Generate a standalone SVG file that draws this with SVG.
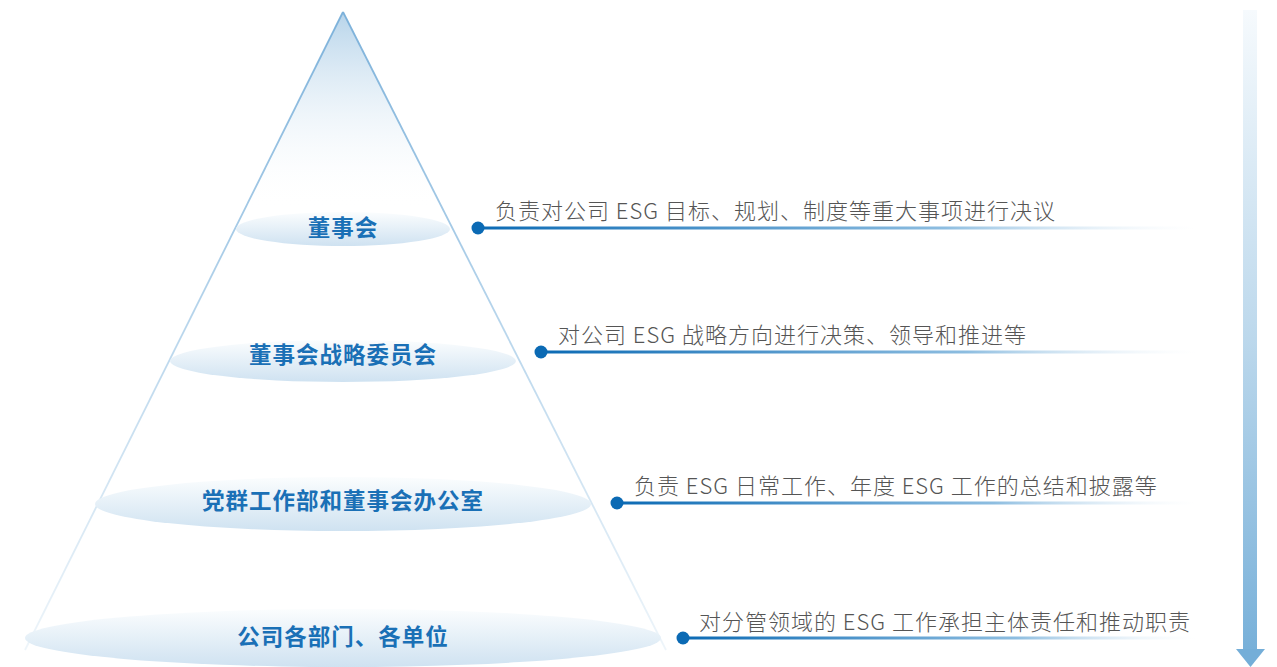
<svg xmlns="http://www.w3.org/2000/svg" width="1277" height="667" viewBox="0 0 1277 667">
<defs>
<linearGradient id="triFill" gradientUnits="userSpaceOnUse" x1="0" y1="12" x2="0" y2="210">
<stop offset="0" stop-color="#b7d4ea"/>
<stop offset="1" stop-color="#ffffff" stop-opacity="0"/>
</linearGradient>
<linearGradient id="edge" gradientUnits="userSpaceOnUse" x1="0" y1="12" x2="0" y2="650">
<stop offset="0" stop-color="#7cb1da"/>
<stop offset="0.5" stop-color="#b9d6ec"/>
<stop offset="1" stop-color="#eef5fa"/>
</linearGradient>
<linearGradient id="ell" x1="0" y1="0" x2="0" y2="1">
<stop offset="0" stop-color="#fbfdfe"/>
<stop offset="1" stop-color="#cfe2f1"/>
</linearGradient>
<linearGradient id="lineG" x1="0" y1="0" x2="1" y2="0">
<stop offset="0" stop-color="#0b6ab4"/>
<stop offset="0.65" stop-color="#8dbde0"/>
<stop offset="1" stop-color="#ffffff" stop-opacity="0.2"/>
</linearGradient>
<linearGradient id="arrowG" gradientUnits="userSpaceOnUse" x1="0" y1="10" x2="0" y2="667">
<stop offset="0" stop-color="#f6fafd"/>
<stop offset="0.5" stop-color="#bcd8ec"/>
<stop offset="1" stop-color="#74aed8"/>
</linearGradient>
</defs>
<style>
.lbl{font-family:"Noto Sans CJK SC","Noto Sans",sans-serif;font-weight:700;font-size:22.5px;fill:#1a70b6;text-anchor:middle;letter-spacing:1px}
.desc{font-family:"Noto Sans CJK SC","Noto Sans",sans-serif;font-weight:300;font-size:22px;fill:#555555;letter-spacing:1px}
.dot{fill:#0b6ab4}
.ln{fill:url(#lineG)}
.el{fill:url(#ell)}
</style>
<g id="pyramid">
<path d="M343,12 L29,640 L663,640 Z" fill="url(#triFill)"/>
<line x1="343" y1="12" x2="25" y2="650" stroke="url(#edge)" stroke-width="1.8"/>
<line x1="343" y1="12" x2="666" y2="650" stroke="url(#edge)" stroke-width="1.8"/>
</g>
<g id="node1">
<ellipse class="el" cx="343" cy="229" rx="107" ry="17"/>
<text class="lbl" x="343" y="236">董事会</text>
</g>
<g id="node2">
<ellipse class="el" cx="343" cy="361" rx="173" ry="21"/>
<text class="lbl" x="343" y="363">董事会战略委员会</text>
</g>
<g id="node3">
<ellipse class="el" cx="343" cy="504" rx="248" ry="27"/>
<text class="lbl" x="343" y="509">党群工作部和董事会办公室</text>
</g>
<g id="node4">
<ellipse class="el" cx="343" cy="638" rx="318" ry="29"/>
<text class="lbl" x="343" y="645">公司各部门、各单位</text>
</g>
<g id="connectors">
<rect class="ln" x="478" y="226.5" width="718" height="3"/>
<circle class="dot" cx="478" cy="228" r="6.5"/>
<text class="desc" x="495" y="219">负责对公司 ESG 目标、规划、制度等重大事项进行决议</text>
<rect class="ln" x="541" y="350.5" width="655" height="3"/>
<circle class="dot" cx="541" cy="352" r="6.5"/>
<text class="desc" x="558" y="343">对公司 ESG 战略方向进行决策、领导和推进等</text>
<rect class="ln" x="617" y="501.5" width="579" height="3"/>
<circle class="dot" cx="617" cy="503" r="6.5"/>
<text class="desc" x="634" y="494">负责 ESG 日常工作、年度 ESG 工作的总结和披露等</text>
<rect class="ln" x="683" y="636.5" width="513" height="3"/>
<circle class="dot" cx="683" cy="638" r="6.5"/>
<text class="desc" x="699" y="630">对分管领域的 ESG 工作承担主体责任和推动职责</text>
</g>
<g id="arrow">
<rect x="1243" y="10" width="14" height="640" fill="url(#arrowG)"/>
<path d="M1236,649 L1265,649 L1250.5,667 Z" fill="#74aed8"/>
</g>
</svg>
